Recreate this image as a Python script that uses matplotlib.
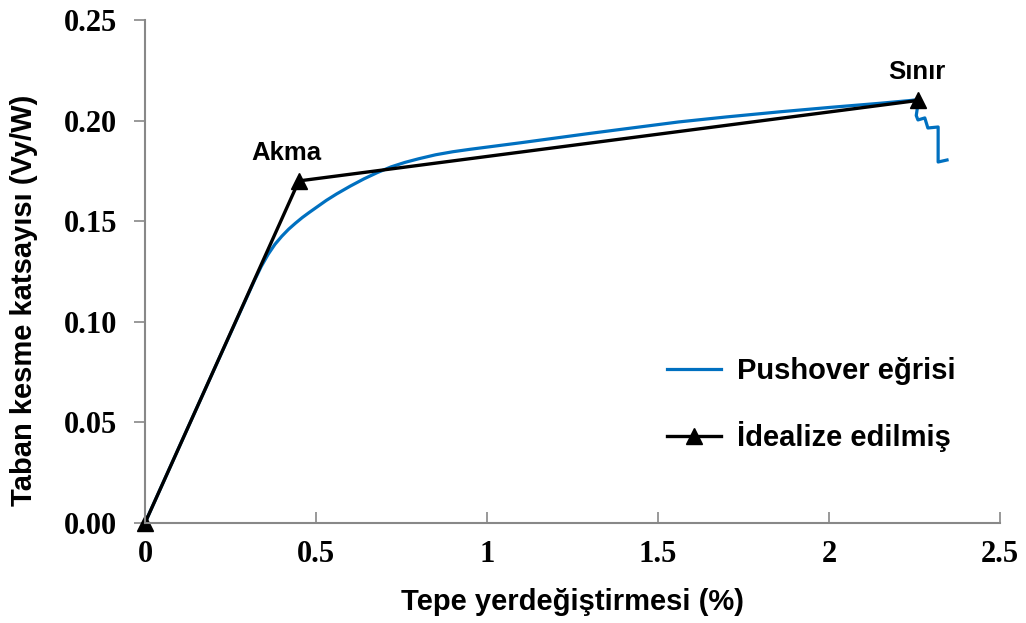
import matplotlib.pyplot as plt

# Pushover curve
pushover_x = [0, 0.10, 0.20, 0.30, 0.32, 0.34, 0.36, 0.38, 0.40, 0.42, 0.44, 0.46,
              0.48, 0.50, 0.53, 0.56, 0.60, 0.64, 0.68, 0.72, 0.76, 0.80, 0.85,
              0.90, 0.95, 1.00, 1.10, 1.20, 1.30, 1.40, 1.56, 1.70, 1.86, 2.00,
              2.15, 2.24, 2.262,
              2.255, 2.26, 2.28, 2.289, 2.319, 2.319, 2.345]
pushover_y = [0, 0.0378, 0.0755, 0.113, 0.1205, 0.1275, 0.1335, 0.1385, 0.1425,
              0.146, 0.149, 0.1518, 0.1543, 0.1567, 0.1603, 0.1635, 0.1674, 0.1710,
              0.1742, 0.1770, 0.1792, 0.1810, 0.1830, 0.1845, 0.1857, 0.1868,
              0.1890, 0.1913, 0.1936, 0.1958, 0.1993, 0.2018, 0.2044, 0.2065,
              0.2086, 0.2100, 0.2105,
              0.2025, 0.2003, 0.2013, 0.1963, 0.1968, 0.1794, 0.1804]

# Idealized bilinear curve
ideal_x = [0, 0.45, 2.26]
ideal_y = [0, 0.170, 0.210]

x_ticks = [0, 0.5, 1, 1.5, 2, 2.5]
x_tick_labels = ['0', '0.5', '1', '1.5', '2', '2.5']
y_ticks = [0, 0.05, 0.10, 0.15, 0.20, 0.25]
y_tick_labels = ['0.00', '0.05', '0.10', '0.15', '0.20', '0.25']

fig = plt.figure(figsize=(10.26, 6.23), dpi=100)
ax = fig.add_axes([0.1413, 0.1605, 0.8334, 0.8075])

ax.plot(pushover_x, pushover_y, color='#0070C0', lw=2.3, label='Pushover eğrisi')
ax.plot(ideal_x, ideal_y, color='black', lw=2.4, marker='^', markersize=11,
        label='İdealize edilmiş', clip_on=False)

ax.set_xlim(0, 2.5)
ax.set_ylim(0, 0.25)

ax.set_xticks(x_ticks)
ax.set_xticklabels(x_tick_labels)
ax.set_yticks(y_ticks)
ax.set_yticklabels(y_tick_labels)

for lab in ax.get_xticklabels() + ax.get_yticklabels():
    lab.set_fontfamily('Liberation Serif')
    lab.set_fontweight('bold')
    lab.set_fontsize(22)

ax.tick_params(axis='y', direction='out', length=8, width=1.2, color='#888888', pad=12)
ax.tick_params(axis='x', direction='in', length=8, width=1.2, color='#888888', pad=12)

for side in ['top', 'right']:
    ax.spines[side].set_visible(False)
for side in ['left', 'bottom']:
    ax.spines[side].set_color('#888888')
    ax.spines[side].set_linewidth(1.5)

ax.set_xlabel('Tepe yerdeğiştirmesi (%)', fontfamily='Liberation Sans',
              fontweight='bold', fontsize=21, labelpad=14)
ax.set_ylabel('Taban kesme katsayısı (Vy/W)', fontfamily='Liberation Sans',
              fontweight='bold', fontsize=21)
ax.yaxis.set_label_coords(-0.125, 0.443)

ax.text(0.415, 0.1838, 'Akma', fontfamily='Liberation Sans', fontweight='bold',
        fontsize=18.5, ha='center', va='center')
ax.text(2.257, 0.224, 'Sınır', fontfamily='Liberation Sans', fontweight='bold',
        fontsize=18.5, ha='center', va='center')

ax.legend(loc='center left', bbox_to_anchor=(0.593, 0.2356), frameon=False,
          prop={'family': 'Liberation Sans', 'weight': 'bold', 'size': 21},
          handlelength=1.85, handletextpad=0.55, labelspacing=1.25, borderpad=0)

fig.savefig('out.png', dpi=100)
